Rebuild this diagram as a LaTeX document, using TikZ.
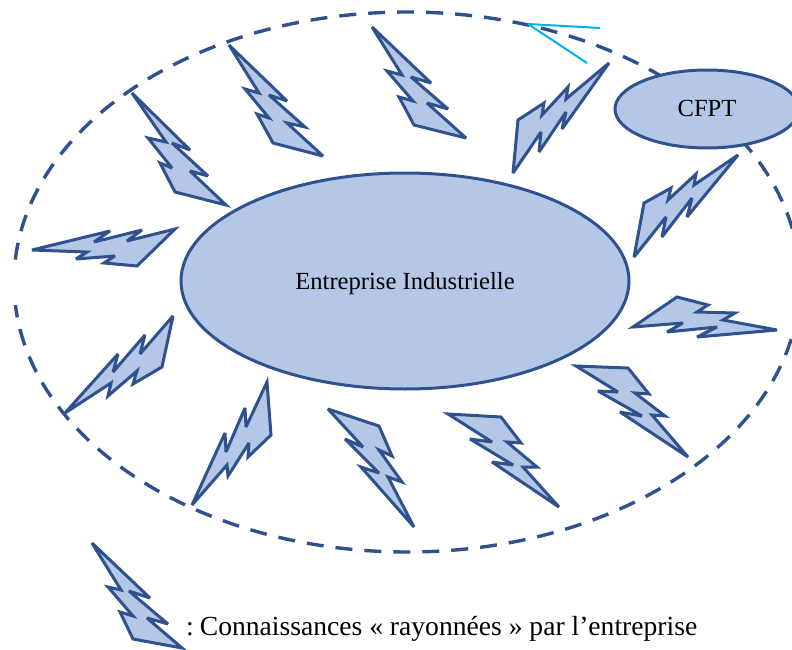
\documentclass[tikz,border=0pt]{standalone}
\usepackage{fontspec}
\setmainfont{Liberation Serif}
\definecolor{bfill}{HTML}{B4C7E7}
\definecolor{bline}{HTML}{2F528F}
\definecolor{cyanl}{HTML}{00B0F0}
\tikzset{
  bolt/.style={draw=bline,fill=bfill,line width=3pt,line join=miter,miter limit=4},
  blob/.style={ellipse,draw=bline,fill=bfill,line width=3pt,inner sep=0pt,text=black},
}
\usetikzlibrary{shapes.geometric}
\begin{document}
\begin{tikzpicture}[x=1pt,y=-1pt]
\useasboundingbox (0,0) rectangle (792,650);
\clip (0,0) rectangle (792,650);
\draw[bline,line width=3.4pt,dash pattern=on 17pt off 12pt] (407,282) ellipse [x radius=393, y radius=270];
\fill[white] (0,263) rectangle (30,305);
\draw[cyanl,line width=2pt] (528,24) -- (600,28);
\draw[cyanl,line width=2pt] (528,24) -- (587,63);
\node[blob,minimum width=448pt,minimum height=216pt] (ent) at (405,281) {\fontsize{24.6}{28}\selectfont\raisebox{-8.5pt}[0pt][0pt]{Entreprise Industrielle}};
\node[blob,minimum width=184pt,minimum height=78pt] (cfpt) at (707,109) {\fontsize{24.6}{28}\selectfont\raisebox{-8pt}[0pt][0pt]{CFPT}};
\draw[bolt] (609,63)--(566,99)--(568,87)--(542,115)--(544,103)--(518,120)--(513,173)--(541,132)--(539,152)--(566,112)--(562,129)--cycle;
\draw[bolt] (738,155)--(694,185)--(696,174)--(668,200)--(671,188)--(644,203)--(634,257)--(666,217)--(662,237)--(692,198)--(687,217)--cycle;
\draw[bolt] (132,93)--(190,150)--(172,143)--(208,176)--(190,171)--(226,205)--(175,192)--(160,163)--(172,168)--(148,138)--(166,142)--cycle;
\draw[bolt] (229,45)--(287,101)--(269,95)--(305,127)--(287,123)--(323,156)--(273,143)--(257,114)--(269,118)--(245,89)--(259,93)--cycle;
\draw[bolt] (372,27)--(431,83)--(411,77)--(448,109)--(427,103)--(466,138)--(414,125)--(399,97)--(413,101)--(387,71)--(402,75)--cycle;
\draw[bolt] (32,250)--(110,231)--(94,242)--(142,230)--(127,241)--(175,229)--(137,266)--(104,263)--(115,256)--(76,259)--(87,252)--cycle;
\draw[bolt] (173,316)--(162,367)--(133,384)--(137,371)--(108,396)--(111,383)--(65,413)--(118,354)--(113,372)--(145,335)--(140,354)--cycle;
\draw[bolt] (267,382)--(271,435)--(248,457)--(249,443)--(228,476)--(227,465)--(192,505)--(225,433)--(226,452)--(245,408)--(246,427)--cycle;
\draw[bolt] (328,409)--(379,426)--(392,456)--(379,450)--(402,482)--(388,477)--(414,527)--(361,467)--(379,473)--(345,439)--(363,447)--cycle;
\draw[bolt] (448,414)--(501,417)--(521,443)--(507,442)--(537,467)--(523,467)--(559,507)--(492,462)--(513,465)--(470,439)--(492,442)--cycle;
\draw[bolt] (576,366)--(628,368)--(649,394)--(635,393)--(665,416)--(652,415)--(688,457)--(620,412)--(642,416)--(598,391)--(618,392)--cycle;
\draw[bolt] (777,330)--(723,320)--(735,313)--(697,312)--(708,305)--(677,297)--(633,327)--(683,323)--(667,332)--(717,327)--(697,337)--cycle;
\draw[bolt] (92,543)--(150,598)--(129,591)--(168,624)--(147,618)--(182,648)--(133,639)--(120,612)--(133,616)--(108,587)--(121,590)--cycle;
\node[anchor=base west,inner sep=0pt] (legend) at (186,635) {\fontsize{27.6}{30}\selectfont :\kern 6pt Connaissances « rayonnées » par l’entreprise};
\end{tikzpicture}
\end{document}
